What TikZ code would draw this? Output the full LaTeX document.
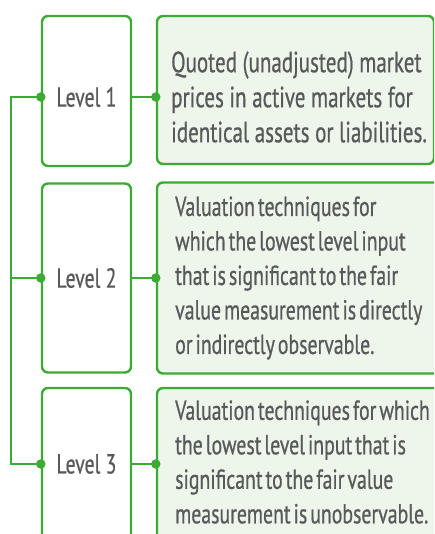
\documentclass[tikz,border=0pt]{standalone}
\usepackage{fontspec}
\setmainfont[FakeStretch=0.72,FakeBold=0.6]{PT Sans}

\definecolor{lvlgreen}{HTML}{3DAA35}
\definecolor{descfill}{HTML}{EEF5EA}
\definecolor{txtgray}{HTML}{58595B}

\newcommand\tightspace{\spaceskip=3pt plus 1pt\relax}

\begin{document}
\begin{tikzpicture}[x=1pt,y=-1pt,
  lvlbox/.style={draw=lvlgreen, line width=2.4pt, rounded corners=6pt, inner sep=0pt},
  descbox/.style={lvlbox, fill=descfill},
  lbl/.style={text=txtgray, font=\fontsize{27.5}{34.5}\selectfont, inner sep=0pt, align=left},
  biglbl/.style={lbl, font=\fontsize{29.2}{35}\selectfont},
  tight/.style={execute at begin node=\tightspace},
  link/.style={draw=lvlgreen, line width=2.4pt},
  dot/.style={circle, fill=lvlgreen, inner sep=0pt, minimum size=9.5pt}]
\useasboundingbox (0,0) rectangle (434,534);
\clip (0,0) rectangle (434,534);

\coordinate (spine) at (11,97);

% level boxes
\node[lvlbox, minimum width=89pt, minimum height=150pt] (l1) at (86.5,91) {};
\node[lvlbox, minimum width=89pt, minimum height=189pt] (l2) at (86.5,278) {};
\node[lvlbox, minimum width=89pt, minimum height=152pt] (l3) at (86.5,464) {};

% description boxes
\node[descbox, minimum width=277pt, minimum height=148pt] (d1) at (295.5,90) {};
\node[descbox, minimum width=290pt, minimum height=191pt] (d2) at (302,278) {};
\node[descbox, minimum width=290pt, minimum height=152pt] (d3) at (302,464) {};

% texts
\node[lbl] (t1) at (86.5,97) {Level 1};
\node[lbl] (t2) at (86.5,278) {Level 2};
\node[lbl] (t3) at (86.5,464) {Level 3};

\node[biglbl, anchor=west] (q1) at (171,97) {Quoted (unadjusted) market\\prices in active markets for\\identical assets or liabilities.};
\node[lbl, tight, anchor=west] (q2) at (175,278) {Valuation techniques for\\which the lowest level input\\that is significant to the fair\\value measurement is directly\\or indirectly observable.};
\node[lbl, tight, anchor=west] (q3) at (175,462) {Valuation techniques for which\\the lowest level input that is\\significant to the fair value\\measurement is unobservable.};

% connectors
\draw[link] (l1.west |- t1) -- (spine) |- (l3.west |- t3);
\draw[link] (spine |- t2) -- (l2.west |- t2);
\foreach \i in {1,2,3} {
  \draw[link] (l\i.east |- t\i) -- (d\i.west |- t\i);
  \node[dot] (ld\i) at (l\i.west |- t\i) {};
  \node[dot] (dd\i) at (d\i.west |- t\i) {};
}
\end{tikzpicture}
\end{document}
